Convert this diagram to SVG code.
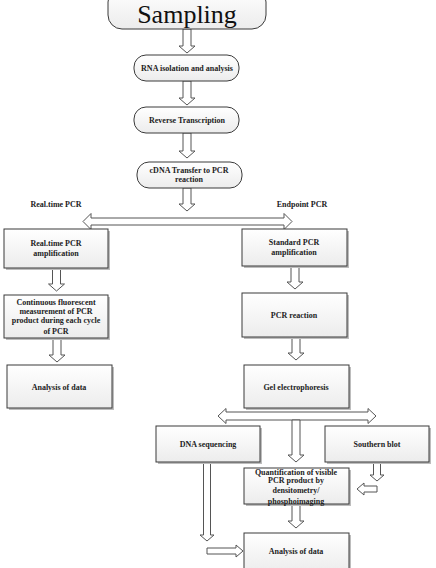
<svg xmlns="http://www.w3.org/2000/svg" width="436" height="568" viewBox="0 0 436 568">
<defs>
<linearGradient id="g" x1="0" y1="0" x2="0" y2="1">
<stop offset="0" stop-color="#ffffff"/>
<stop offset="1" stop-color="#ececec"/>
</linearGradient>
</defs>
<style>
.box{fill:url(#g);stroke:#3a3a3a;stroke-width:1}
.sh{fill:#bdbdbd}
.t{font-family:"Liberation Serif",serif;font-weight:bold;font-size:8px;fill:#222;text-anchor:middle}
.big{font-family:"Liberation Serif",serif;font-size:26px;fill:#111;text-anchor:middle}
.ar{fill:#fff;stroke:#555;stroke-width:1}
</style>
<rect width="436" height="568" fill="#fff"/>
<g id="connectors">
<polygon class="ar" points="183,29 191,29 191,46 195,46 187,53 179,46 183,46"/>
<polygon class="ar" points="183,81 191,81 191,98 195,98 187,105 179,98 183,98"/>
<polygon class="ar" points="183,133 191,133 191,151 195,151 187,158 179,151 183,151"/>
<polygon class="ar" points="183,188 191,188 191,204 195,204 187,211 179,204 183,204"/>
<polygon class="ar" points="83,221.5 91,213.5 91,218 284,218 284,213.5 292,221.5 284,229.5 284,225 91,225 91,229.5"/>
<polygon class="ar" points="52.5,268 60.5,268 60.5,284 64.5,284 56.5,291 48.5,284 52.5,284"/>
<polygon class="ar" points="53,338 61,338 61,355 65,355 57,362 49,355 53,355"/>
<polygon class="ar" points="291,266 299,266 299,282 303,282 295,289 287,282 291,282"/>
<polygon class="ar" points="292,337 300,337 300,353 304,353 296,360 288,353 292,353"/>
<polygon class="ar" points="218,416 226,408.5 226,412 368,412 368,408.5 376,416 368,423.5 368,420 226,420 226,423.5"/>
<polygon class="ar" points="292,420 300,420 300,455 304,455 296,462 288,455 292,455"/>
<polygon class="ar" points="373.5,462 380.5,462 380.5,475 384,475 377,481 370,475 373.5,475"/>
<polygon class="ar" points="357,489 364,483 364,486 377,486 377,492 364,492 364,495"/>
<polygon class="ar" points="292,504 300,504 300,521 304,521 296,528 288,521 292,521"/>
<polygon class="ar" points="203.5,462 210.5,462 210.5,535 214,535 207,541 200,535 203.5,535"/>
<polygon class="ar" points="207,548 236,548 236,545 243,551 236,557 236,554 207,554"/>
</g>
<g id="sampling">
<rect class="box" x="108" y="-12" width="158" height="41" rx="14"/>
<text class="big" x="187" y="23">Sampling</text>
</g>
<g id="rna">
<rect class="box" x="134" y="55" width="105" height="26" rx="12"/>
<text class="t" x="187" y="71">RNA isolation and analysis</text>
</g>
<g id="rt">
<rect class="box" x="134" y="107" width="105" height="26" rx="12"/>
<text class="t" x="187" y="123">Reverse Transcription</text>
</g>
<g id="cdna">
<rect class="box" x="137" y="162" width="105" height="26" rx="12"/>
<text class="t" x="189" y="173">cDNA Transfer to PCR</text>
<text class="t" x="189" y="182">reaction</text>
</g>
<g id="lbl-real">
<text class="t" x="56" y="207">Real.time PCR</text>
</g>
<g id="lbl-end">
<text class="t" x="302" y="207">Endpoint PCR</text>
</g>
<g id="rt-amp">
<rect class="sh" x="6" y="231" width="104" height="39"/>
<rect class="box" x="4" y="229" width="104" height="39"/>
<text class="t" x="56" y="246">Real.time PCR</text>
<text class="t" x="56" y="256">amplification</text>
</g>
<g id="std-amp">
<rect class="sh" x="244" y="231" width="105" height="37"/>
<rect class="box" x="242" y="229" width="105" height="37"/>
<text class="t" x="294" y="245">Standard PCR</text>
<text class="t" x="294" y="255">amplification</text>
</g>
<g id="continuous">
<rect class="sh" x="6" y="297" width="104" height="43"/>
<rect class="box" x="4" y="295" width="104" height="43"/>
<text class="t" x="56" y="305">Continuous fluorescent</text>
<text class="t" x="56" y="314">measurement of PCR</text>
<text class="t" x="56" y="323">product during each cycle</text>
<text class="t" x="56" y="334">of PCR</text>
</g>
<g id="analysis-left">
<rect class="sh" x="9" y="367" width="105" height="43"/>
<rect class="box" x="7" y="365" width="105" height="43"/>
<text class="t" x="59" y="390">Analysis of data</text>
</g>
<g id="pcr-reaction">
<rect class="sh" x="244" y="295" width="105" height="44"/>
<rect class="box" x="242" y="293" width="105" height="44"/>
<text class="t" x="294" y="318">PCR reaction</text>
</g>
<g id="gel">
<rect class="sh" x="246" y="367" width="105" height="43"/>
<rect class="box" x="244" y="365" width="105" height="43"/>
<text class="t" x="296" y="390">Gel electrophoresis</text>
</g>
<g id="dna-seq">
<rect class="sh" x="158" y="428" width="104" height="36"/>
<rect class="box" x="156" y="426" width="104" height="36"/>
<text class="t" x="208" y="447">DNA sequencing</text>
</g>
<g id="southern">
<rect class="sh" x="327" y="428" width="104" height="36"/>
<rect class="box" x="325" y="426" width="104" height="36"/>
<text class="t" x="377" y="447">Southern blot</text>
</g>
<g id="quant">
<rect class="sh" x="246" y="470" width="105" height="36"/>
<rect class="box" x="244" y="468" width="105" height="36"/>
<text class="t" x="296" y="475">Quantification of visible</text>
<text class="t" x="296" y="483">PCR product by</text>
<text class="t" x="296" y="493">densitometry/</text>
<text class="t" x="296" y="504">phosphoimaging</text>
</g>
<g id="analysis-right">
<rect class="sh" x="246" y="535" width="105" height="40"/>
<rect class="box" x="244" y="533" width="105" height="40"/>
<text class="t" x="296" y="554">Analysis of data</text>
</g>
</svg>
